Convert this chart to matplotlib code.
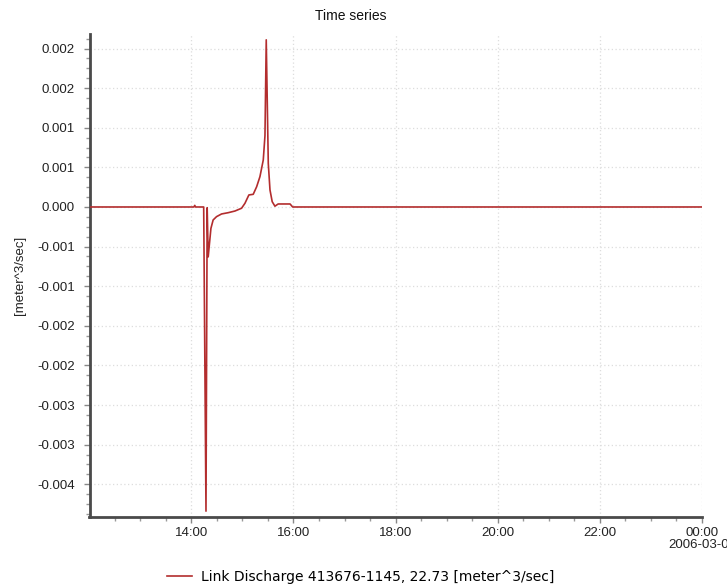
import matplotlib
matplotlib.use("Agg")
import matplotlib.pyplot as plt
import matplotlib.dates as mdates
from matplotlib.ticker import FuncFormatter, MultipleLocator
import pandas as pd
from decimal import Decimal, ROUND_HALF_UP

# ---- data (minutes after 2006-03-01 12:00, discharge in m^3/s) ----
start_time = "2006-03-01 12:00:20"
end_time = "2006-03-02 00:00"
base_time = "2006-03-01 12:00"
minutes = [0, 123, 124, 125, 134.5, 137.2, 138.6, 139.8, 143, 145.6, 149.6, 155.5,
           163.3, 171.2, 179, 183, 187.6, 192.7, 196.7, 200.6, 204.5, 206.5,
           208, 210.4, 212.4, 215, 218.2, 222, 236, 239, 720]
discharge = [0.0, 0.0, 0.00002, 0.0, 0.0, -0.00384, -0.00001, -0.00063, -0.00027,
             -0.000164, -0.000122, -0.000088, -0.000072, -0.000051, -0.000016,
             0.000047, 0.000152, 0.000160, 0.000255, 0.000383, 0.000593, 0.00090,
             0.00211, 0.00055, 0.000215, 0.000067, 0.000010, 0.000038, 0.000038,
             0.0, 0.0]
series_label = "Link Discharge 413676-1145, 22.73 [meter^3/sec]"
title = "Time series"
y_label = "[meter^3/sec]"
y_limits = (-0.003914, 0.002184)

times = pd.Timestamp(base_time) + pd.to_timedelta(minutes, unit="min")

W, H = 727, 587
fig = plt.figure(figsize=(W / 100, H / 100), dpi=100)
ax = fig.add_axes([89.5 / W, 1 - 517 / H, (702 - 89.5) / W, (517 - 34) / H])

FONT = ["Liberation Sans", "DejaVu Sans"]
line_color = "#b32d2e"
ax.plot(times, discharge, color=line_color, lw=1.2, label=series_label, zorder=3)

ax.set_xlim(pd.Timestamp(start_time), pd.Timestamp(end_time))
ax.set_ylim(*y_limits)

# x axis
ax.xaxis.set_major_locator(mdates.HourLocator(byhour=range(0, 24, 2)))
ax.xaxis.set_minor_locator(mdates.MinuteLocator(byminute=[0, 30]))


def xfmt(v, pos):
    d = mdates.num2date(v)
    if d.hour == 0 and d.minute == 0:
        return d.strftime("%H:%M\n%Y-%m-%d")
    return d.strftime("%H:%M")


ax.xaxis.set_major_formatter(FuncFormatter(xfmt))

# y axis
ax.yaxis.set_major_locator(MultipleLocator(0.0005))
ax.yaxis.set_minor_locator(MultipleLocator(0.000125))


def yfmt(v, pos):
    d = Decimal(str(round(v, 7))).quantize(Decimal("0.001"), rounding=ROUND_HALF_UP)
    if d == 0:
        d = Decimal("0.000")
    return f"{d:.3f}"


ax.yaxis.set_major_formatter(FuncFormatter(yfmt))

for s in ["top", "right"]:
    ax.spines[s].set_visible(False)
for s in ["left", "bottom"]:
    ax.spines[s].set_color("#4a4a4a")
    ax.spines[s].set_linewidth(2.0)

ax.tick_params(axis="both", which="major", length=4.5, width=1, color="#888888",
               labelsize=9.5, labelcolor="#222222")
ax.tick_params(axis="both", which="minor", length=3, width=1, color="#999999")
ax.tick_params(axis="y", which="major", pad=6)
ax.tick_params(axis="x", which="major", pad=3)
for lab in ax.get_xticklabels() + ax.get_yticklabels():
    lab.set_family(FONT)
    lab.set_linespacing(1.0)

ax.grid(True, which="major", color="#dddddd", linestyle=(0, (1, 2)), lw=0.9, zorder=0)

fig.text(350.5 / W, 1 - 16 / H, title, ha="center", va="center", fontsize=10,
         family=FONT, color="#111111")
fig.text(20 / W, 1 - 275 / H, y_label, ha="center", va="center", rotation=90,
         fontsize=9.5, family=FONT, color="#222222")

fig.legend(loc="center", bbox_to_anchor=(361 / W, 1 - 577 / H), frameon=False,
           borderpad=0, borderaxespad=0, handlelength=1.75, handletextpad=0.7,
           prop={"family": ["DejaVu Sans"], "size": 10})

fig.savefig("out.png", dpi=100)
